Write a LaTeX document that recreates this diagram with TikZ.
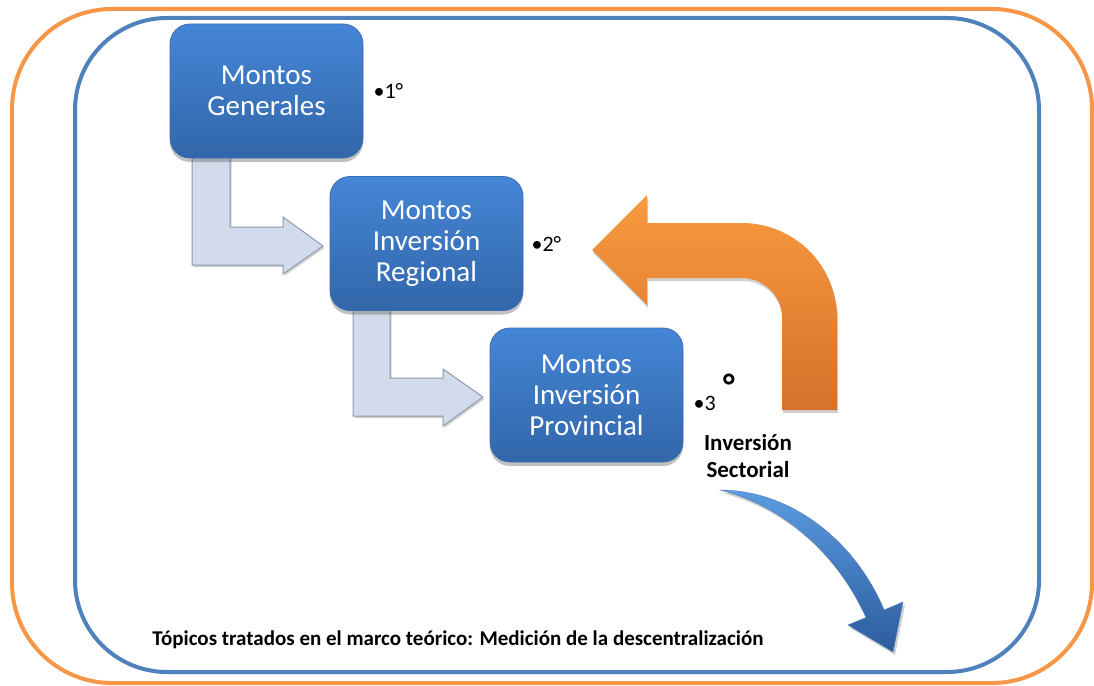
\documentclass[tikz,border=0pt]{standalone}
\usepackage{fontspec}
\setmainfont{Carlito}
\usetikzlibrary{shadows,calc}
\definecolor{frameorange}{HTML}{F79646}
\definecolor{frameblue}{HTML}{4F81BD}
\definecolor{boxtop}{HTML}{4586D6}
\definecolor{boxbot}{HTML}{3266AA}
\definecolor{boxedge}{HTML}{3A6EB2}
\definecolor{bentfill}{HTML}{D2DBEB}
\definecolor{bentedge}{HTML}{8E99AB}
\definecolor{arrowtop}{HTML}{F99A3F}
\definecolor{arrowbot}{HTML}{D6712B}
\definecolor{curvetop}{HTML}{5B9BE0}
\definecolor{curvebot}{HTML}{2C5C9E}
\begin{document}
\begin{tikzpicture}[x=1pt,y=-1pt,
  frame/.style={line width=4pt, rounded corners=100pt},
  box/.style={rounded corners=20pt, minimum width=193pt, minimum height=134pt,
    top color=boxtop, bottom color=boxbot, draw=boxedge, line width=0.8pt,
    text=white, align=center, font=\fontsize{29}{31}\selectfont,
    drop shadow={shadow xshift=0pt, shadow yshift=-4pt, opacity=0.35, fill=black!70}},
  bent/.style={fill=bentfill, draw=bentedge, line width=1pt, line join=miter,
    drop shadow={shadow xshift=1.5pt, shadow yshift=-2pt, opacity=0.3, fill=black!60}},
  order/.style={font=\fontsize{22}{24}\selectfont, text=black, inner sep=0pt},
  sidelabel/.style={font=\bfseries\fontsize{23}{27}\selectfont, align=center, inner sep=0pt},
  caption/.style={font=\bfseries\fontsize{21}{24}\selectfont, inner sep=0pt}
]
\useasboundingbox (0,0) rectangle (1094,685);
\fill[white] (0,0) rectangle (1094,685);

% frames
\draw[frame, frameorange] (12,9) rectangle (1092,683);
\draw[frame, frameblue, rounded corners=92pt] (75,18) rectangle (1039,672);

% bent arrows
\draw[bent] (192,150) -- (192,265) -- (283,265) -- (283,274) -- (323,246)
  -- (283,217) -- (283,227) -- (230,227) -- (230,150) -- cycle;
\draw[bent] (353,302) -- (353,416) -- (443,416) -- (443,426) -- (483,397)
  -- (443,369) -- (443,378) -- (390,378) -- (390,302) -- cycle;

% boxes
\node[box] (g) at (266.5,91) {Montos\\Generales};
\node[box] (r) at (426.5,243.5) {Montos\\Inversión\\Regional};
\node[box] (p) at (586.5,395) {Montos\\Inversión\\Provincial};

% order labels
\node[order, anchor=west] (o1) at ($(g.east)+(10,0)$) {•1°};
\node[order, anchor=west] (o2) at ($(r.east)+(8,0)$) {•2°};
\node[order, anchor=west] (o3) at ($(p.east)+(10,8)$) {•3};
\node[font=\bfseries\fontsize{34}{34}\selectfont, inner sep=0pt] (deg) at (729,386) {°};

% orange U-turn arrow
\shade[top color=arrowtop, bottom color=arrowbot,
  drop shadow={shadow xshift=1pt, shadow yshift=-3pt, opacity=0.3, fill=black!60}]
  (592,250) -- (647,195) -- (647,223) -- (742,223)
  .. controls (794.5,223) and (837,265.5) .. (837,318)
  -- (837,410) -- (782,410) -- (782,318)
  .. controls (782,296) and (764,278) .. (742,278)
  -- (647,278) -- (647,305) -- cycle;

% side label
\node[sidelabel] (sect) at (748,456) {Inversión\\Sectorial};

% blue curved arrow
\coordinate (tail) at (720,490);
\shade[top color=curvetop, bottom color=curvebot, draw=curvebot!80, line width=0.4pt,
  drop shadow={shadow xshift=2pt, shadow yshift=-3pt, opacity=0.3, fill=black!60}]
  (tail) .. controls (790,490) and (855,540) .. (884,610)
  -- (903,602) -- (893,652) -- (848,625) -- (866,617.5)
  .. controls (840,560) and (790,508) .. (tail) -- cycle;

% caption
\node[caption] (cap) at (458,640) {Tópicos tratados en el marco teórico: Medición de la descentralización};
\end{tikzpicture}
\end{document}
